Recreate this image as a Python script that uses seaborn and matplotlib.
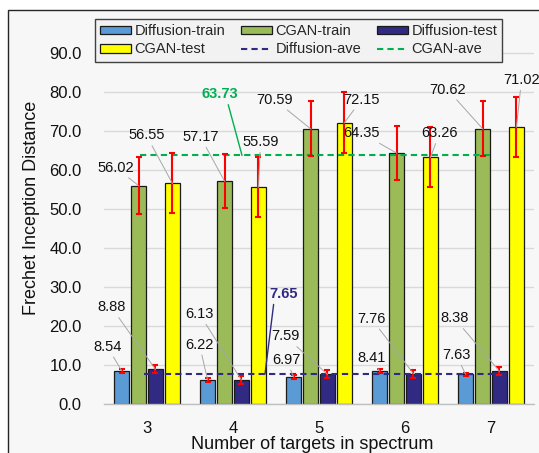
import matplotlib
matplotlib.use("Agg")
import matplotlib.pyplot as plt
from matplotlib.patches import Patch, Rectangle
from matplotlib.lines import Line2D
import numpy as np
import pandas as pd
import seaborn as sns

# ---- data -----------------------------------------------------------------
targets = ["3", "4", "5", "6", "7"]
series = ["Diffusion-train", "CGAN-train", "Diffusion-test", "CGAN-test"]

diffusion_train = [8.54, 6.22, 6.97, 8.41, 7.63]
cgan_train = [56.02, 57.17, 70.59, 64.35, 70.62]
diffusion_test = [8.88, 6.13, 7.59, 7.76, 8.38]
cgan_test = [56.55, 55.59, 72.15, 63.26, 71.02]

diffusion_train_err = [0.5, 0.5, 0.5, 0.5, 0.4]
cgan_train_err = [7.2, 7.0, 7.0, 7.0, 7.0]
diffusion_test_err = [1.05, 1.05, 1.0, 1.0, 1.0]
cgan_test_err = [7.7, 7.7, 7.8, 7.7, 7.7]

y_ticks = [0, 10, 20, 30, 40, 50, 60, 70, 80, 90]

# ---- styling --------------------------------------------------------------
colors = ["#5b9bd5", "#9bbb59", "#312a83", "#ffff00"]
diff_ave_color = "#312a83"
cgan_ave_color = "#00b050"
err_color = "#ff0000"
leader_color = "#a6a6a6"
panel_color = "#f7f7f7"

# label offsets (pixels) from the top centre of each bar, per series
label_offsets = {
    "Diffusion-train": [(-14, 24), (-8, 35), (-7, 17), (-8, 13), (-9, 19)],
    "CGAN-train": [(-23, 18), (-24, 44), (-36, 29), (-35, 20), (-35, 39)],
    "Diffusion-test": [(-44, 62), (-42, 66), (-42, 38), (-42, 55), (-45, 53)],
    "CGAN-test": [(-26, 48), (2, 45), (17, 23), (9, 24), (5, 47)],
}

sns.set_style("white")
plt.rcParams["font.family"] = ["Liberation Sans", "DejaVu Sans"]

values = {"Diffusion-train": diffusion_train, "CGAN-train": cgan_train,
          "Diffusion-test": diffusion_test, "CGAN-test": cgan_test}
errors = {"Diffusion-train": diffusion_train_err, "CGAN-train": cgan_train_err,
          "Diffusion-test": diffusion_test_err, "CGAN-test": cgan_test_err}

df = pd.DataFrame({
    "targets": np.tile(targets, len(series)),
    "series": np.repeat(series, len(targets)),
    "fid": np.concatenate([values[s] for s in series]),
})

fig = plt.figure(figsize=(5.39, 4.53), dpi=100)
fig.patch.set_facecolor("white")
W, H = 539, 453

# chart frame
frame = Rectangle((8 / W, -0.2), 2.0, 1.2 - 10 / H, transform=fig.transFigure,
                  facecolor=panel_color, edgecolor="#262626", lw=1.0, zorder=-5)
fig.add_artist(frame)

ax = fig.add_axes([104 / W, 49 / H, 430 / W, 390 / H])
ax.set_zorder(1)
ax.set_facecolor("none")

sns.barplot(data=df, x="targets", y="fid", hue="series", hue_order=series,
            palette=colors, saturation=1, width=0.79, gap=0.12, edgecolor="#1a1a1a",
            linewidth=0.9, errorbar=None, legend=False, ax=ax, zorder=2)

ax.set_xlim(-0.5, len(targets) - 0.5)
ax.set_ylim(0, 100)
ax.set_yticks(y_ticks)
ax.set_yticklabels([f"{t:.1f}" for t in y_ticks])
ax.yaxis.grid(True, color="#d9d9d9", lw=1.0, zorder=0)
ax.set_axisbelow(True)
for side in ["top", "right", "left"]:
    ax.spines[side].set_visible(False)
ax.spines["bottom"].set_color("#bfbfbf")
ax.spines["bottom"].set_linewidth(1.0)
ax.tick_params(axis="both", length=0, labelsize=12, colors="#111111")
ax.tick_params(axis="y", pad=16)
ax.tick_params(axis="x", pad=12)

# averages over both train and test runs
diff_ave = np.mean(diffusion_train + diffusion_test)
cgan_ave = np.mean(cgan_train + cgan_test)
ax.hlines(diff_ave, -0.04, len(targets) - 1 + 0.02, colors=diff_ave_color, lw=1.5,
          linestyles=(0, (3, 2)), zorder=3)
ax.hlines(cgan_ave, -0.08, len(targets) - 1 + 0.02, colors=cgan_ave_color, lw=1.5,
          linestyles=(0, (3, 2)), zorder=3)

# error bars and value labels on every bar
for s, cont in zip(series, ax.containers):
    xs = [p.get_x() + p.get_width() / 2 for p in cont.patches]
    hs = [p.get_height() for p in cont.patches]
    ax.errorbar(xs, hs, yerr=errors[s], fmt="none", ecolor=err_color, elinewidth=1.5,
                capsize=2.2, capthick=1.5, zorder=4)
    for x, h, off in zip(xs, hs, label_offsets[s]):
        ax.annotate(f"{h:.2f}", xy=(x, h), xytext=off, textcoords="offset pixels",
                    ha="center", va="center", fontsize=10.5, color="#111111",
                    arrowprops=dict(arrowstyle="-", color=leader_color, lw=0.7,
                                    shrinkA=0, shrinkB=0), zorder=5,
                    annotation_clip=False)

ax.annotate(f"{cgan_ave:.2f}", xy=(1.105, cgan_ave), xytext=(-22, 61),
            textcoords="offset pixels", ha="center", va="center", fontsize=10.5,
            fontweight="bold", color=cgan_ave_color,
            arrowprops=dict(arrowstyle="-", color=cgan_ave_color, lw=1.0,
                            shrinkA=0, shrinkB=0, relpos=(0.7, 0.0)), zorder=5)
ax.annotate(f"{diff_ave:.2f}", xy=(1.372, diff_ave), xytext=(19, 80),
            textcoords="offset pixels", ha="center", va="center", fontsize=10.5,
            fontweight="bold", color=diff_ave_color,
            arrowprops=dict(arrowstyle="-", color=diff_ave_color, lw=1.0,
                            shrinkA=0, shrinkB=0, relpos=(0.15, 0.0)), zorder=5)

ax.set_xlabel("Number of targets in spectrum", fontsize=13, color="#111111")
ax.set_ylabel("Frechet Inception Distance", fontsize=13, color="#111111")
ax.xaxis.set_label_coords(0.484, -0.082)
ax.yaxis.set_label_coords(-0.149, 0.503)

# legend laid out row by row: three entries per row
h_dt = Patch(facecolor=colors[0], edgecolor="#1a1a1a", lw=0.9)
h_ct = Patch(facecolor=colors[1], edgecolor="#1a1a1a", lw=0.9)
h_dte = Patch(facecolor=colors[2], edgecolor="#1a1a1a", lw=0.9)
h_cte = Patch(facecolor=colors[3], edgecolor="#1a1a1a", lw=0.9)
h_da = Line2D([], [], color=diff_ave_color, lw=1.5, linestyle=(0, (3, 2)))
h_ca = Line2D([], [], color=cgan_ave_color, lw=1.5, linestyle=(0, (3, 2)))
handles = [h_dt, h_cte, h_ct, h_da, h_dte, h_ca]
labels = ["Diffusion-train", "CGAN-test", "CGAN-train", "Diffusion-ave",
          "Diffusion-test", "CGAN-ave"]
leg = ax.legend(handles, labels, ncol=3, loc="upper left",
                bbox_to_anchor=(95 / W, 1 - 19 / H), bbox_transform=fig.transFigure,
                fontsize=10.5, frameon=True, fancybox=False, borderaxespad=0,
                borderpad=0.35, handlelength=2.1, handleheight=0.55,
                handletextpad=0.25, columnspacing=1.1, labelspacing=0.3)
leg.get_frame().set_facecolor("#f2f2f2")
leg.get_frame().set_edgecolor("#404040")
leg.get_frame().set_linewidth(1.0)
leg.get_frame().set_alpha(1)

fig.savefig("out.png", dpi=100, facecolor="white")
